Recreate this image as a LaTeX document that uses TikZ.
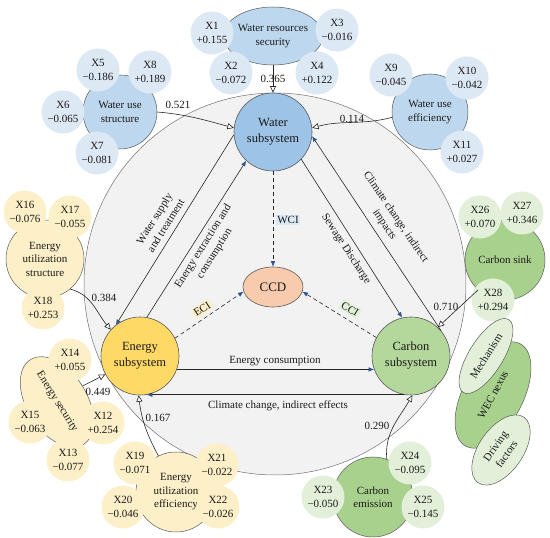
\documentclass[tikz,border=0pt]{standalone}
\usepackage{fontspec}
\setmainfont{Liberation Serif}
\usetikzlibrary{shapes.geometric,arrows.meta}
\definecolor{txt}{HTML}{1A1A1A}
\definecolor{linec}{HTML}{262626}
\definecolor{headb}{HTML}{2F4F8F}
\definecolor{edgec}{HTML}{5A5A5A}
\definecolor{bgfill}{HTML}{F2F2F2}
\definecolor{bgline}{HTML}{707070}
\definecolor{wsub}{HTML}{9DC3E6}
\definecolor{cblue}{HTML}{BDD7EE}
\definecolor{xblue}{HTML}{DDE8F5}
\definecolor{esub}{HTML}{FFD966}
\definecolor{cyel}{HTML}{FDF0C8}
\definecolor{xyel}{HTML}{FDF0C8}
\definecolor{csub}{HTML}{B4D79C}
\definecolor{cgrn}{HTML}{A9D18E}
\definecolor{xgrn}{HTML}{E2F0D9}
\definecolor{ccdc}{HTML}{F8CBAD}
\begin{document}
\begin{tikzpicture}[x=1pt,y=1pt,
  base/.style={font=\fontsize{11}{13.5}\selectfont, text=txt, align=center, inner sep=0pt},
  xb/.style={base, circle, fill=xblue, minimum size=43pt},
  xy/.style={base, circle, fill=xyel, minimum size=43pt},
  xg/.style={base, circle, fill=xgrn, minimum size=43pt},
  cbl/.style={base, circle, fill=cblue, draw=edgec, line width=0.5pt},
  cye/.style={base, circle, fill=cyel, draw=edgec, line width=0.5pt},
  cgr/.style={base, circle, fill=cgrn, draw=edgec, line width=0.5pt},
  subsys/.style={circle, draw=edgec, line width=0.6pt, minimum size=78pt, inner sep=0pt, align=center, text=txt, font=\fontsize{12.5}{16}\selectfont},
  lab/.style={base},
  oarr/.style={draw=linec, line width=0.6pt, -{Triangle[length=6.5pt,width=6pt,fill=white]}},
  barr/.style={draw=linec, line width=0.6pt, -{Latex[length=5.5pt,width=4.5pt,color=headb]}},
  darr/.style={barr, dash pattern=on 4pt off 3pt},
  tag/.style={base, inner sep=1.5pt}
]
\useasboundingbox (0,0) rectangle (550,538);
% background
\node[circle, fill=bgfill, draw=bgline, line width=0.5pt, minimum size=382pt, inner sep=0pt] (bg) at (275,254) {};

% water clusters
\node[cbl, ellipse, minimum width=90pt, minimum height=58pt] (wrs) at (273,502) {Water resources\\security};
\node[xb] (x1) at (212,505) {X1\\+0.155};
\node[xb] (x2) at (231,465) {X2\\−0.072};
\node[xb] (x3) at (337,508) {X3\\−0.016};
\node[xb] (x4) at (317,465) {X4\\+0.122};

\node[cbl, minimum size=74pt] (wus) at (120,426) {Water use\\structure};
\node[xb] (x5) at (98,468) {X5\\−0.186};
\node[xb] (x8) at (150,466) {X8\\+0.189};
\node[xb] (x6) at (63,426) {X6\\−0.065};
\node[xb] (x7) at (97,385) {X7\\−0.081};

\node[cbl, minimum size=76pt] (wue) at (430,426) {Water use\\efficiency};
\node[xb] (x9) at (391,463) {X9\\−0.045};
\node[xb] (x10) at (467,460) {X10\\−0.042};
\node[xb] (x11) at (462,386) {X11\\+0.027};

% energy clusters
\node[cye, minimum size=78pt] (eus) at (45,279) {Energy\\utilization\\structure};
\node[xy] (x16) at (25,326) {X16\\−0.076};
\node[xy] (x17) at (70,321) {X17\\−0.055};
\node[xy] (x18) at (43,230) {X18\\+0.253};

\node[cye, ellipse, minimum width=100pt, minimum height=60pt, rotate=-58] (esec) at (57,136) {Energy security};
\node[xy] (x14) at (70,178) {X14\\+0.055};
\node[xy] (x15) at (30,116) {X15\\−0.063};
\node[xy] (x12) at (103,115) {X12\\+0.254};
\node[xy] (x13) at (68,78) {X13\\−0.077};

\node[cye, minimum size=80pt] (eue) at (176,46) {Energy\\utilization\\efficiency};
\node[xy] (x19) at (135,75) {X19\\−0.071};
\node[xy] (x20) at (123,31) {X20\\−0.046};
\node[xy] (x21) at (217,73) {X21\\−0.022};
\node[xy] (x22) at (218,31) {X22\\−0.026};

% carbon clusters
\node[cgr, minimum size=80pt] (cem) at (373,41) {Carbon\\emission};
\node[xg] (x23) at (323,41) {X23\\−0.050};
\node[xg] (x24) at (410,75) {X24\\−0.095};
\node[xg] (x25) at (423,31) {X25\\−0.145};

\node[cgr, minimum size=80pt] (csink) at (505,278) {Carbon sink};
\node[xg] (x26) at (480,321) {X26\\+0.070};
\node[xg] (x27) at (522,325) {X27\\+0.346};
\node[xg] (x28) at (493,238) {X28\\+0.294};

% WEC nexus group
\node[base, ellipse, fill=cgrn, draw=edgec, line width=0.5pt, minimum width=116pt, minimum height=60pt, rotate=62] (wec) at (493,143) {WEC nexus};
\node[base, ellipse, fill=xgrn, draw=edgec, line width=0.5pt, minimum width=86pt, minimum height=34pt, rotate=58] (mech) at (486,182) {Mechanism};
\node[base, ellipse, fill=xgrn, draw=edgec, line width=0.5pt, minimum width=80pt, minimum height=44pt, rotate=55] (drv) at (501,88) {Driving\\factors};

% subsystems
\node[subsys, fill=wsub] (water) at (273,406) {Water\\subsystem};
\node[subsys, fill=esub] (energy) at (140,182) {Energy\\subsystem};
\node[subsys, fill=csub] (carbon) at (411,182) {Carbon\\subsystem};
\node[ellipse, fill=ccdc, draw=edgec, line width=0.6pt, minimum width=60pt, minimum height=40pt, inner sep=0pt, text=txt, font=\fontsize{13}{15}\selectfont] (ccd) at (273,251) {CCD};

% outer weighted arrows
\draw[oarr] (wrs.south) -- (water.north);
\node[lab] (l365) at (273,459) {0.365};
\draw[oarr] (wus.east) to[out=-5,in=165] (water.174);
\node[lab] (l521) at (178,433) {0.521};
\draw[oarr] (wue.188) to[out=195,in=15] (water.6);
\node[lab] (l114) at (352,419) {0.114};
\draw[oarr] (eus.-50) to[out=-15,in=130] (energy.138);
\node[lab] (l384) at (104,240) {0.384};
\draw[oarr] (esec.north) -- (energy.208);
\node[lab] (l449) at (98,146) {0.449};
\draw[oarr] (eue.116) to[out=118,in=-83] (energy.-92);
\node[lab] (l167) at (158,120) {0.167};
\draw[oarr] (cem.70) to[out=95,in=-120] (carbon.-88);
\node[lab] (l290) at (377,112) {0.290};
\draw[oarr] (csink.228) -- (carbon.47);
\node[lab] (l710) at (446,231) {0.710};

% internal arrows
\draw[barr] (water.184) -- (energy.128);
\node[lab, rotate=58] (lsup) at (160,316) {Water supply\\and treatment};
\draw[barr] (energy.80) -- (water.227);
\node[lab, rotate=58] (lext) at (209,288) {Energy extraction and\\consumption};
\draw[barr] (water.-44) -- (carbon.103);
\node[lab, rotate=-57] (lsew) at (346,289) {Sewage Discharge};
\draw[barr] (carbon.40) -- (water.-6);
\node[lab, rotate=-56] (lcli) at (390,317) {Climate change, indirect\\impacts};
\draw[barr] (energy.-20) -- (carbon.200);
\node[lab] (lenc) at (275,177) {Energy consumption};
\draw[barr] (carbon.-100) -- (energy.-80);
\node[lab] (lcle) at (278,132) {Climate change, indirect effects};

% dashed coupling arrows
\draw[darr] (water.south) -- (ccd.north);
\node[tag, fill=xblue] (wci) at (288,318) {WCI};
\draw[darr] (energy.27) -- (ccd.189);
\node[tag, fill=cyel, rotate=33] (eci) at (202,229) {ECI};
\draw[darr] (carbon.152) -- (ccd.-9);
\node[tag, fill=xgrn, rotate=-32] (cci) at (350,229) {CCI};
\end{tikzpicture}
\end{document}
